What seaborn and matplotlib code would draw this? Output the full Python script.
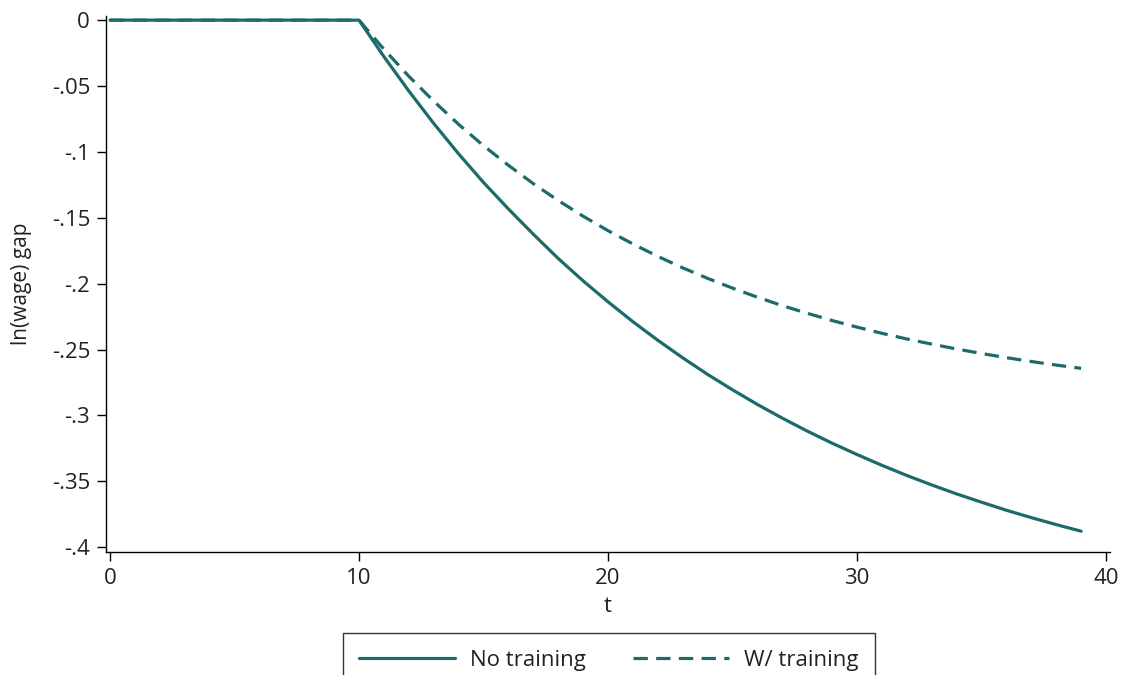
import numpy as np
import pandas as pd
import matplotlib
matplotlib.use("Agg")
import matplotlib.pyplot as plt
import seaborn as sns

# values
t = list(range(0, 40))
no_training = [0.0] * 11 + [
    -0.0277, -0.0538, -0.0784, -0.1015, -0.1232, -0.1433, -0.1625, -0.1809,
    -0.1979, -0.2138, -0.2289, -0.2430, -0.2563, -0.2689, -0.2806, -0.2917,
    -0.3021, -0.3119, -0.3211, -0.3297, -0.3379, -0.3456, -0.3528, -0.3596,
    -0.3659, -0.3720, -0.3776, -0.3829, -0.3879]
w_training = [0.0] * 11 + [
    -0.0221, -0.0426, -0.0615, -0.0791, -0.0953, -0.1102, -0.1241, -0.1369,
    -0.1488, -0.1598, -0.1699, -0.1793, -0.1880, -0.1960, -0.2034, -0.2103,
    -0.2167, -0.2225, -0.2280, -0.2330, -0.2377, -0.2420, -0.2459, -0.2496,
    -0.2530, -0.2562, -0.2591, -0.2618, -0.2643]
series_names = ["No training", "W/ training"]
x_ticks = [0, 10, 20, 30, 40]
y_ticks = [0, -0.05, -0.1, -0.15, -0.2, -0.25, -0.3, -0.35, -0.4]
y_tick_labels = ["0", "-.05", "-.1", "-.15", "-.2", "-.25", "-.3", "-.35", "-.4"]

df = pd.DataFrame({
    "t": t + t,
    "gap": no_training + w_training,
    "series": [series_names[0]] * len(t) + [series_names[1]] * len(t),
})

sns.set_style("ticks")
plt.rcParams["font.family"] = ["Open Sans", "DejaVu Sans"]
teal = "#1c6b6b"
text_col = "#222222"

fig = plt.figure(figsize=(11.21, 6.75), dpi=100)
ax = fig.add_axes([0.0946, 0.182, 0.8956, 0.794])

sns.lineplot(data=df, x="t", y="gap", style="series", color=teal,
             dashes={series_names[0]: "", series_names[1]: (4.5, 2.6)},
             linewidth=2.3, ax=ax)

ax.set_xlim(-0.16, 40.16)
ax.set_ylim(-0.4038, 0.003)
ax.set_xticks(x_ticks)
ax.set_yticks(y_ticks)
ax.set_yticklabels(y_tick_labels)
ax.tick_params(axis="both", labelsize=16, colors="black", labelcolor=text_col,
               width=1.0, length=6.5, pad=5)
ax.set_xlabel("t", fontsize=16, color=text_col, labelpad=5)
ax.set_ylabel("ln(wage) gap", fontsize=15, color=text_col, labelpad=14)
sns.despine(ax=ax)
for side in ["left", "bottom"]:
    ax.spines[side].set_color("black")
    ax.spines[side].set_linewidth(1.0)

handles, labels = ax.get_legend_handles_labels()
ax.get_legend().remove()
leg = fig.legend(handles, labels, loc="upper center", ncol=2,
                 bbox_to_anchor=(609 / 1121, 1 - 633 / 675),
                 frameon=True, fancybox=False, edgecolor="black",
                 fontsize=16, handlelength=4.3, handletextpad=0.7,
                 columnspacing=2.1, borderpad=0.75, borderaxespad=0)
leg.get_frame().set_linewidth(1.0)
for txt in leg.get_texts():
    txt.set_color(text_col)

fig.savefig("out.png", dpi=100)
